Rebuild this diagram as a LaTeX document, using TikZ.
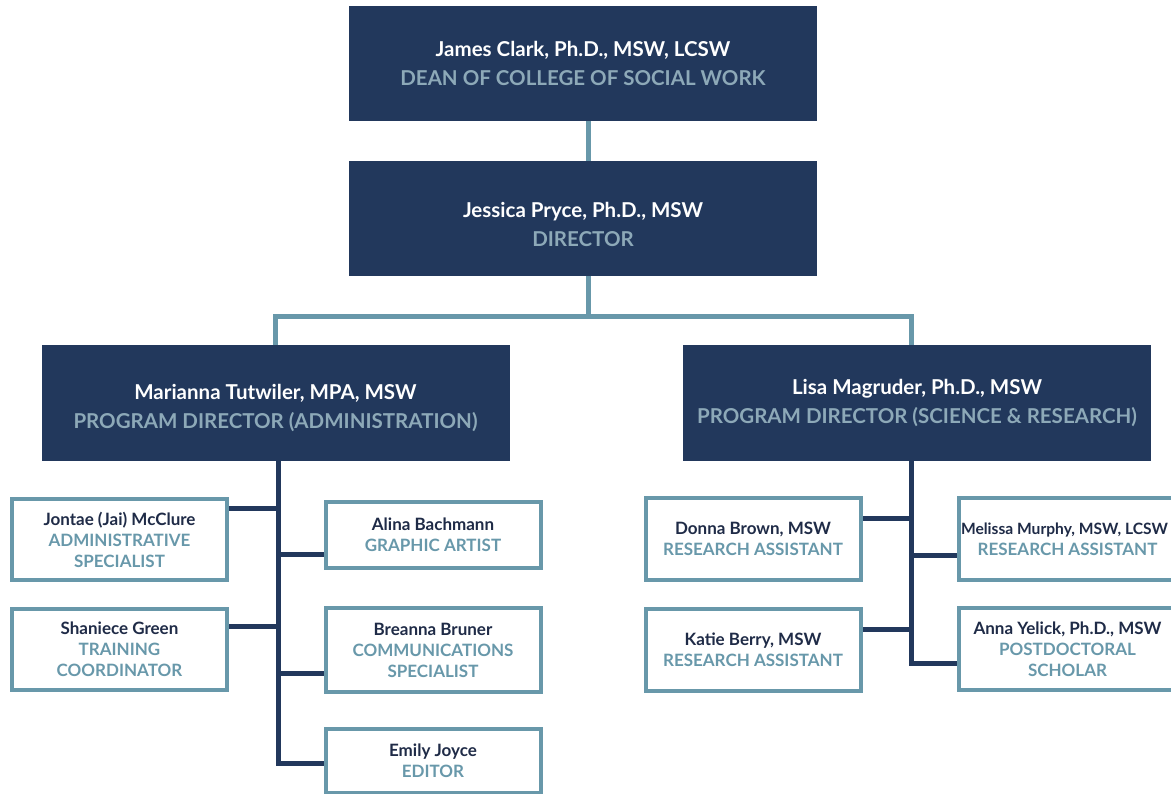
\documentclass[tikz,border=0pt]{standalone}
\usepackage{fontspec}
\setmainfont{Lato}
\usetikzlibrary{backgrounds}
\definecolor{navy}{HTML}{22385C}
\definecolor{tealc}{HTML}{6898AA}
\definecolor{rolelight}{HTML}{8DA9B8}
\definecolor{namedark}{HTML}{1F2B47}
\begin{document}
\begin{tikzpicture}[x=1pt,y=-1pt,
  bigbox/.style={fill=navy, draw=none, minimum width=468pt, minimum height=115pt,
    inner sep=0pt, align=center, font=\fontsize{20.5}{28.5}\selectfont\bfseries, text=white},
  smallbox/.style={draw=tealc, line width=4pt, fill=white, minimum width=215pt,
    minimum height=81pt, inner sep=0pt, align=center,
    font=\fontsize{17}{21}\selectfont\bfseries, text=namedark},
  upline/.style={draw=tealc, line width=5pt},
  subline/.style={draw=navy, line width=5pt}]
\useasboundingbox (0,0) rectangle (1171,794);

% top level
\node[bigbox] (dean) at (583,63.5) {James Clark, Ph.D., MSW, LCSW\\\textcolor{rolelight}{DEAN OF COLLEGE OF SOCIAL WORK}};
\node[bigbox] (dir) at (583,218.5) {\mbox{}\\[-1.5pt]Jessica Pryce, Ph.D., MSW\\\textcolor{rolelight}{DIRECTOR}};
\node[bigbox] (mar) at (275.5,403) {\mbox{}\\[-3pt]Marianna Tutwiler, MPA, MSW\\\textcolor{rolelight}{PROGRAM DIRECTOR (ADMINISTRATION)}};
\node[bigbox] (lisa) at (917,403) {Lisa Magruder, Ph.D., MSW\\\textcolor{rolelight}{PROGRAM DIRECTOR (SCIENCE \& RESEARCH)}};

% left team
\node[smallbox] (jon) at (119.5,539.5) {Jontae (Jai) McClure\\\textcolor{tealc}{ADMINISTRATIVE}\\\textcolor{tealc}{SPECIALIST}};
\node[smallbox] (sha) at (119.5,649.5) {Shaniece Green\\\textcolor{tealc}{TRAINING}\\\textcolor{tealc}{COORDINATOR}};
\node[smallbox, minimum height=66pt] (ali) at (433,535) {Alina Bachmann\\\textcolor{tealc}{GRAPHIC ARTIST}};
\node[smallbox, minimum height=84pt] (bre) at (433,650) {Breanna Bruner\\\textcolor{tealc}{COMMUNICATIONS}\\\textcolor{tealc}{SPECIALIST}};
\node[smallbox, minimum height=64pt] (emi) at (433,761) {Emily Joyce\\\textcolor{tealc}{EDITOR}};

% right team
\node[smallbox, minimum height=82pt] (don) at (753,539) {Donna Brown, MSW\\\textcolor{tealc}{RESEARCH ASSISTANT}};
\node[smallbox, minimum height=82pt] (kat) at (753,650) {Katie Berry, MSW\\\textcolor{tealc}{RESEARCH ASSISTANT}};
\node[smallbox, minimum height=82pt, minimum width=217pt] (mel) at (1067.5,539) {\hspace*{-6pt}{\fontsize{15.6}{21}\selectfont Melissa Murphy, MSW, LCSW}\\\textcolor{tealc}{RESEARCH ASSISTANT}};
\node[smallbox, minimum height=82pt, minimum width=217pt] (ann) at (1067.5,649) {Anna Yelick, Ph.D., MSW\\\textcolor{tealc}{POSTDOCTORAL}\\\textcolor{tealc}{SCHOLAR}};

\coordinate (spL) at (278,763);
\coordinate (spR) at (911,663);

\begin{scope}[on background layer]
  \fill[white] (0,0) rectangle (1171,794);
  % upper connectors
  \draw[upline] ([xshift=5pt]dean.south) -- ([xshift=5pt]dir.north);
  \draw[upline] ([xshift=5pt]dir.south) -- ++(0,40) -| (mar.north);
  \draw[upline] ([xshift=5pt]dir.south) -- ++(0,40) -| ([xshift=-6pt]lisa.north);
  % left spine
  \draw[subline] (mar.south -| spL) -- (spL) -- (emi.west |- spL);
  \draw[subline] (jon.east |- 0,508) -- (spL |- 0,508);
  \draw[subline] (sha.east |- 0,626) -- (spL |- 0,626);
  \draw[subline] (spL |- 0,554) -- (ali.west |- 0,554);
  \draw[subline] (spL |- 0,673) -- (bre.west |- 0,673);
  % right spine
  \draw[subline] (lisa.south -| spR) -- (spR) -- (ann.west |- spR);
  \draw[subline] (don.east |- 0,518) -- (spR |- 0,518);
  \draw[subline] (kat.east |- 0,629) -- (spR |- 0,629);
  \draw[subline] (spR |- 0,555) -- (mel.west |- 0,555);
\end{scope}
\end{tikzpicture}
\end{document}
